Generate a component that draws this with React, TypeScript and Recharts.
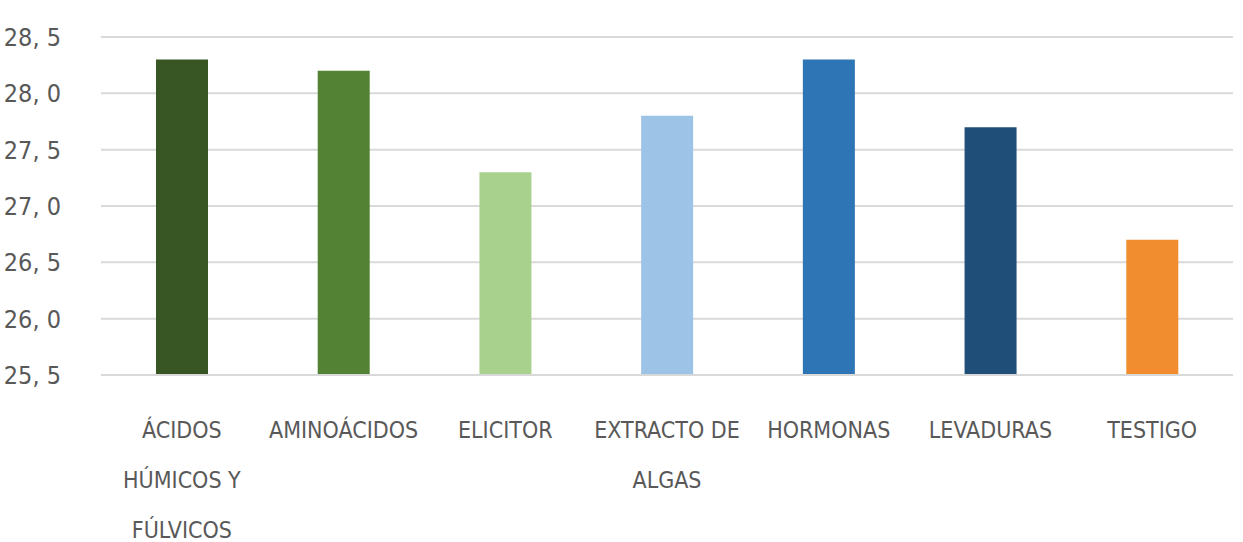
import { BarChart, Bar, XAxis, YAxis, CartesianGrid, Cell } from "recharts";

const categories = [
  "Ácidos Húmicos y Fúlvicos",
  "Aminoácidos",
  "Elicitor",
  "Extracto de Algas",
  "Hormonas",
  "Levaduras",
  "Testigo",
];
const values = [28.3, 28.2, 27.3, 27.8, 28.3, 27.7, 26.7];
const barColors = ["#375623", "#548235", "#A9D18E", "#9DC3E6", "#2E75B6", "#1F4E79", "#F18C2F"];
const yTicks = [25.5, 26.0, 26.5, 27.0, 27.5, 28.0, 28.5];

const chartData = categories.map((name, i) => ({ name, value: values[i] }));

const FONT = "'DejaVu Sans', sans-serif";
const TEXT = "#595959";

// wrap words so each line stays within ~11 characters
function wrap(label: string, max = 11): string[] {
  const lines: string[] = [];
  let cur = "";
  for (const w of label.split(" ")) {
    const next = cur ? cur + " " + w : w;
    if (next.length > max && cur) {
      lines.push(cur);
      cur = w;
    } else {
      cur = next;
    }
  }
  if (cur) lines.push(cur);
  return lines;
}

function CategoryTick({ x, y, payload }: any) {
  const lines = wrap(payload.value);
  return (
    <text
      x={x}
      y={y}
      textAnchor="middle"
      fill={TEXT}
      fontFamily={FONT}
      fontSize={23}
      style={{ textTransform: "uppercase", fontStretch: "condensed" }}
    >
      {lines.map((l, i) => (
        <tspan key={i} x={x} dy={i === 0 ? 61 : 50}>
          {l}
        </tspan>
      ))}
    </text>
  );
}

export default function App() {
  return (
    <div style={{ position: "absolute", left: 0, top: 0, background: "#fff" }}>
      <BarChart
        width={1243}
        height={542}
        data={chartData}
        margin={{ top: 37, right: 10, bottom: 0, left: 0 }}
        barSize={52}
      >
        <CartesianGrid vertical={false} stroke="#d9d9d9" strokeWidth={2} />
        <XAxis
          dataKey="name"
          interval={0}
          axisLine={{ stroke: "#d9d9d9", strokeWidth: 2 }}
          tickLine={false}
          tickSize={0}
          tick={<CategoryTick />}
          height={167}
        />
        <YAxis
          width={101}
          domain={[25.5, 28.5]}
          ticks={yTicks}
          interval={0}
          axisLine={false}
          tickLine={false}
          tickSize={0}
          tickMargin={40}
          tickFormatter={(v: number) => v.toFixed(1).replace(".", ", ")}
          tick={{ fill: TEXT, fontFamily: FONT, fontSize: 25, style: { fontStretch: "condensed" } }}
        />
        <Bar dataKey="value" isAnimationActive={false}>
          {chartData.map((d, i) => (
            <Cell key={d.name} fill={barColors[i]} />
          ))}
        </Bar>
      </BarChart>
    </div>
  );
}
